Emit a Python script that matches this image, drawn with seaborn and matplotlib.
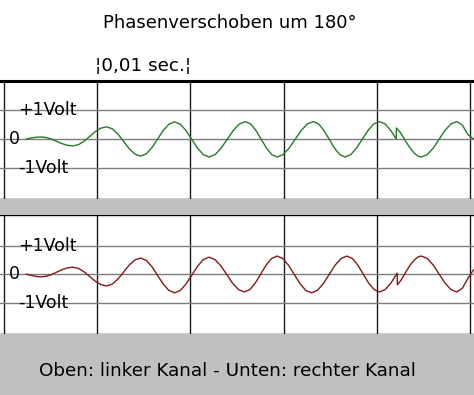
import matplotlib
matplotlib.use("Agg")
import matplotlib.pyplot as plt
from matplotlib.patches import Rectangle
import seaborn as sns
import pandas as pd

# ---------------- data (time in ms, voltage in V) ----------------
left_t = [2.35, 2.9, 3.45, 3.96,
          4.53, 5.10, 5.67, 6.24, 6.81, 7.38,
          7.98, 8.59, 9.19, 9.79, 10.40, 11.0,
          11.61, 12.22, 12.83, 13.43, 14.04, 14.65,
          15.26, 15.87, 16.48, 17.08, 17.69, 18.3,
          18.92, 19.53, 20.15, 20.77, 21.38, 22.0,
          22.65, 23.3, 23.95, 24.6, 25.25, 25.9,
          26.47, 27.03, 27.6, 28.17, 28.73, 29.3,
          29.95, 30.6, 31.25, 31.9, 32.55, 33.2,
          33.77, 34.33, 34.9, 35.47, 36.03, 36.6,
          37.22, 37.83, 38.45, 39.07, 39.68, 40.3,
          40.9, 41.5, 42.1,
          42.12, 42.6, 43.1, 43.6, 44.1, 44.5, 44.8,
          45.43, 46.07, 46.7, 47.33, 47.97, 48.6,
          49.2, 49.8, 50.4]
left_v = [0.0, 0.035, 0.06, 0.07,
          0.049, -0.007, -0.085, -0.163, -0.219, -0.24,
          -0.196, -0.075, 0.09, 0.255, 0.376, 0.42,
          0.352, 0.168, -0.085, -0.338, -0.522, -0.59,
          -0.511, -0.295, 0.0, 0.295, 0.511, 0.59,
          0.509, 0.288, -0.015, -0.318, -0.539, -0.62,
          -0.538, -0.315, -0.01, 0.295, 0.518, 0.60,
          0.518, 0.295, -0.01, -0.315, -0.538, -0.62,
          -0.538, -0.315, -0.01, 0.295, 0.518, 0.60,
          0.518, 0.295, -0.01, -0.315, -0.538, -0.62,
          -0.538, -0.315, -0.01, 0.295, 0.518, 0.60,
          0.52, 0.30, 0.0,
          0.38, 0.20, -0.07, -0.32, -0.51, -0.60, -0.62,
          -0.538, -0.315, -0.01, 0.295, 0.518, 0.60,
          0.48, 0.15, 0.0]

right_t = [2.35, 2.9, 3.45, 3.96,
           4.53, 5.10, 5.67, 6.24, 6.81, 7.38,
           7.98, 8.59, 9.19, 9.79, 10.40, 11.0,
           11.61, 12.22, 12.83, 13.43, 14.04, 14.65,
           15.26, 15.87, 16.48, 17.08, 17.69, 18.3,
           18.92, 19.53, 20.15, 20.77, 21.38, 22.0,
           22.63, 23.27, 23.9, 24.53, 25.17, 25.8,
           26.38, 26.97, 27.55, 28.13, 28.72, 29.3,
           29.92, 30.53, 31.15, 31.77, 32.38, 33.0,
           33.63, 34.27, 34.9, 35.53, 36.17, 36.8,
           37.38, 37.97, 38.55, 39.13, 39.72, 40.3,
           40.93, 41.57, 42.2,
           42.22, 42.6, 43.1, 43.6, 44.1, 44.5, 44.8,
           45.43, 46.07, 46.7, 47.33, 47.97, 48.6,
           49.2, 49.8, 50.4]
right_v = [0.0, -0.05, -0.085, -0.10,
           -0.077, -0.015, 0.07, 0.155, 0.217, 0.24,
           0.196, 0.075, -0.09, -0.255, -0.376, -0.42,
           -0.354, -0.175, 0.07, 0.315, 0.494, 0.56,
           0.478, 0.255, -0.05, -0.355, -0.578, -0.66,
           -0.576, -0.348, -0.035, 0.278, 0.506, 0.59,
           0.508, 0.285, -0.02, -0.325, -0.548, -0.63,
           -0.546, -0.315, 0.0, 0.315, 0.546, 0.63,
           0.544, 0.3075, -0.015, -0.3375, -0.574, -0.66,
           -0.574, -0.3375, -0.015, 0.3075, 0.544, 0.63,
           0.546, 0.315, 0.0, -0.315, -0.546, -0.63,
           -0.54, -0.30, 0.03,
           -0.38, -0.22, 0.05, 0.32, 0.51, 0.61, 0.63,
           0.546, 0.315, 0.0, -0.315, -0.546, -0.63,
           -0.50, -0.15, 0.15]

grid_t = [0, 10, 20, 30, 40, 50]
volt_levels = [1, 0, -1]
volt_labels = ["+1Volt", "0", "-1Volt"]

title = "Phasenverschoben um 180\u00b0"
scale_label = "\u00a60,01 sec.\u00a6"
caption = "Oben: linker Kanal - Unten: rechter Kanal"

# ---------------- figure ----------------
sns.set_theme(style="white")
plt.rcParams['font.family'] = ['DejaVu Sans']

W, H = 474, 395
fig = plt.figure(figsize=(W / 100, H / 100), dpi=100)
fig.patch.set_facecolor("white")

def fy(py):
    return 1 - py / H

GRAY = "#c0c0c0"
fig.patches.append(Rectangle((0, fy(395)), 1, (395 - 334) / H, transform=fig.transFigure,
                             facecolor=GRAY, edgecolor="none", zorder=0))
fig.patches.append(Rectangle((0, fy(214.5)), 1, (214.5 - 199) / H, transform=fig.transFigure,
                             facecolor=GRAY, edgecolor="none", zorder=0))

XLIM = (-0.45, 50.45)

def make_panel(top_px, bot_px, ylim, t, v, color, top_lw):
    ax = fig.add_axes([0, fy(bot_px), 1, (bot_px - top_px) / H])
    ax.set_facecolor("white")
    df = pd.DataFrame({"t": t, "v": v})
    for g in grid_t:
        ax.axvline(g, color="#1a1a1a", lw=1.0, zorder=1)
    for lv in volt_levels:
        ax.axhline(lv, color="#7c7c7c", lw=1.0, zorder=1)
    sns.lineplot(data=df, x="t", y="v", ax=ax, color=color, lw=1.0,
                 estimator=None, sort=False, zorder=3)
    ax.set_xlim(*XLIM)
    ax.set_ylim(*ylim)
    ax.set_xticks([])
    ax.set_yticks([])
    ax.set_xlabel("")
    ax.set_ylabel("")
    for s in ["left", "right"]:
        ax.spines[s].set_visible(False)
    ax.spines["top"].set_color("black")
    ax.spines["top"].set_linewidth(top_lw)
    ax.spines["bottom"].set_color("black")
    ax.spines["bottom"].set_linewidth(1.0)
    for lv, lab in zip(volt_levels, volt_labels):
        xpos = 9 if lab == "0" else 18
        ax.text(xpos / W, lv, lab, transform=ax.get_yaxis_transform(),
                ha="left", va="center", fontsize=12.5, color="black", zorder=4)
    return ax

make_panel(80.5, 199, (-2.069, 2.017), left_t, left_v, "#267a26", 2.2)
make_panel(214.5, 334, (-2.105, 2.088), right_t, right_v, "#841818", 1.0)

fig.text(230 / W, fy(23), title, ha="center", va="center", fontsize=13, color="black")
fig.text(95 / W, fy(66), scale_label, ha="left", va="center", fontsize=13.2, color="black")
fig.text(227 / W, fy(371), caption, ha="center", va="center", fontsize=13.2, color="black")

fig.savefig("out.png", dpi=100, facecolor=fig.get_facecolor())
